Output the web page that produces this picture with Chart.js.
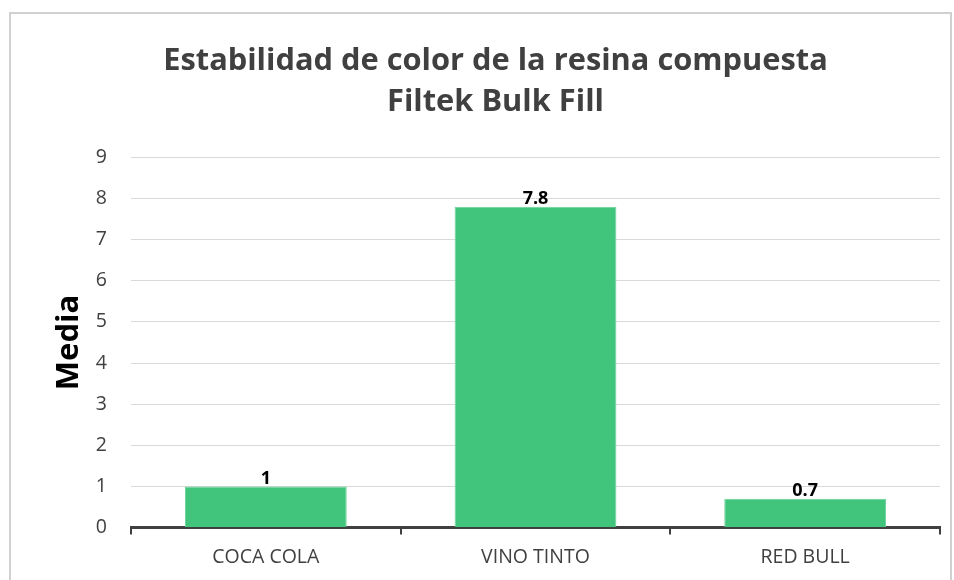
<!DOCTYPE html>
<html>
<head>
<meta charset="utf-8">
<script src="https://cdn.jsdelivr.net/npm/chart.js@4/dist/chart.umd.min.js"></script>
<style>
  html, body { margin: 0; padding: 0; background: #fff; }
  #wrap { width: 954px; height: 580px; }
</style>
</head>
<body>
<div id="wrap"><canvas id="chart"></canvas></div>
<script>
const categories = ["COCA COLA", "VINO TINTO", "RED BULL"];
const media = [1, 7.8, 0.7];
const titleLines = ["Estabilidad de color de la resina compuesta", "Filtek Bulk Fill"];
const yTitle = "Media";

const fontFamily = "'Open Sans', sans-serif";

// outer border like the exported chart frame
const framePlugin = {
  id: "frame",
  beforeDraw(chart) {
    const c = chart.ctx;
    c.save();
    c.strokeStyle = "#d0d0d0";
    c.lineWidth = 2;
    c.strokeRect(10, 13, 941, 600);
    c.restore();
  }
};

// value labels on top of the bars
const valueLabels = {
  id: "valueLabels",
  afterDatasetsDraw(chart) {
    const c = chart.ctx;
    const meta = chart.getDatasetMeta(0);
    c.save();
    c.font = "bold 18px " + fontFamily;
    c.fillStyle = "#000";
    c.textAlign = "center";
    c.textBaseline = "bottom";
    meta.data.forEach((bar, i) => {
      c.fillText(String(media[i]), bar.x, bar.y + 1);
    });
    c.restore();
  }
};

const ctx = document.getElementById("chart").getContext("2d");

const chart = new Chart(ctx, {
  type: "bar",
  data: {
    labels: categories,
    datasets: [
      {
        label: "Media",
        data: media,
        backgroundColor: "#41c47c",
        borderColor: "#6bd398",
        borderWidth: 1,
        categoryPercentage: 0.6,
        barPercentage: 1,
      },
    ],
  },
  options: {
    responsive: true,
    maintainAspectRatio: false,
    animation: false,
    layout: {
      padding: { top: 41, left: 51, right: 14, bottom: 0 },
    },
    scales: {
      x: {
        offset: true,
        grid: {
          offset: true,
          drawOnChartArea: false,
          color: "#404040",
          lineWidth: 2,
          tickLength: 7,
        },
        border: {
          color: "#404040",
          width: 3,
        },
        ticks: {
          color: "#404040",
          font: { family: fontFamily, size: 19.5 },
          padding: 11,
        },
      },
      y: {
        min: 0,
        max: 9,
        afterFit(scale) {
          scale.width = 80;
        },
        ticks: {
          stepSize: 1,
          color: "#404040",
          font: { family: fontFamily, size: 19.5 },
          padding: 24,
        },
        grid: {
          color: "#d9d9d9",
          lineWidth: 1,
          drawTicks: false,
        },
        border: { display: false },
        title: {
          display: true,
          text: yTitle,
          color: "#000",
          font: { family: fontFamily, size: 31, weight: "bold" },
          padding: 0,
        },
      },
    },
    plugins: {
      legend: { display: false },
      tooltip: { enabled: false },
      title: {
        display: true,
        text: titleLines,
        color: "#404040",
        font: { family: fontFamily, size: 30.8, weight: "bold", lineHeight: 1.32 },
        padding: { top: 0, bottom: 35 },
      },
    },
  },
  plugins: [framePlugin, valueLabels],
});
</script>
</body>
</html>
